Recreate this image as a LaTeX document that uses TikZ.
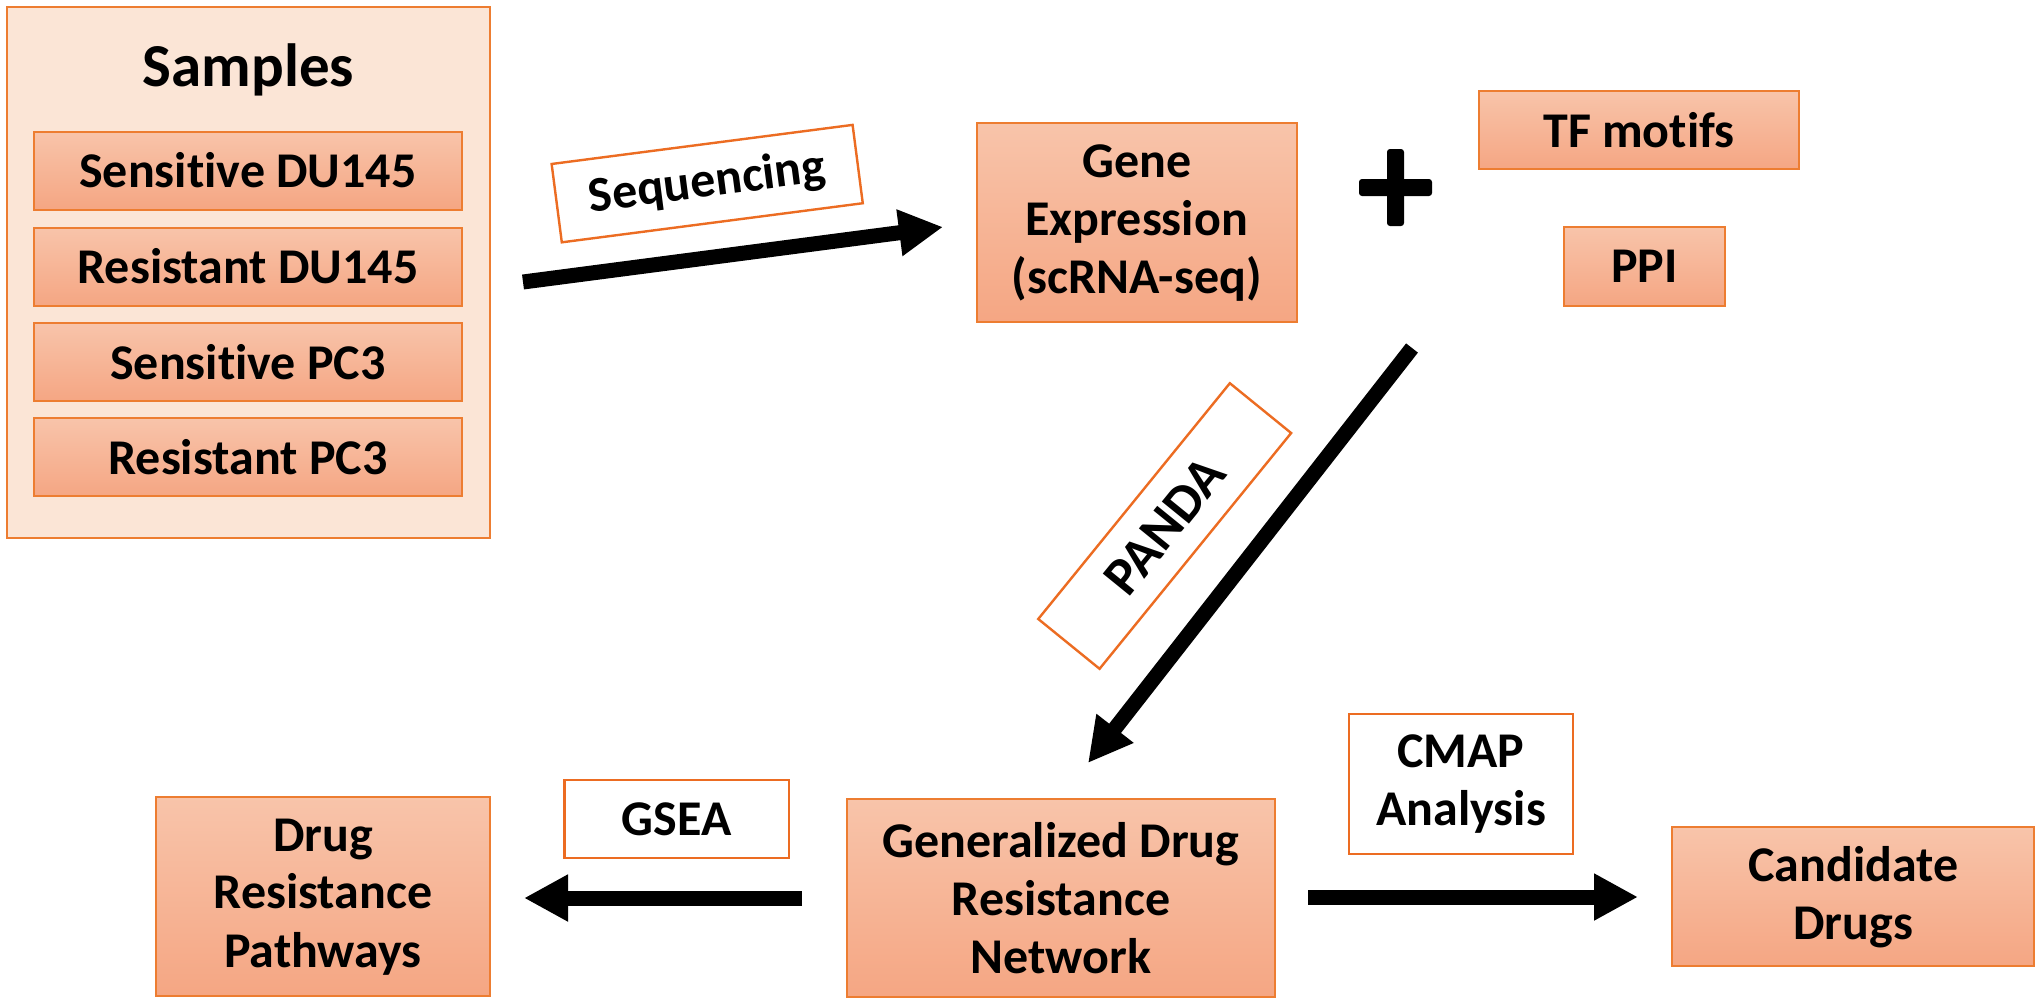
\documentclass[tikz,border=0pt]{standalone}
\usepackage{fontspec}
\setmainfont{Carlito}[Ligatures=NoCommon]
\usetikzlibrary{arrows.meta}
\definecolor{obord}{RGB}{237,125,49}
\definecolor{lbord}{RGB}{236,108,34}
\definecolor{sfill}{RGB}{251,229,214}
\definecolor{gtop}{RGB}{248,196,170}
\definecolor{gbot}{RGB}{245,166,131}
\tikzset{
  txt/.style={font=\fontsize{25}{29}\selectfont\bfseries},
  gbox/.style={txt, draw=obord, line width=1pt, top color=gtop, bottom color=gbot, inner sep=0pt, align=center},
  lbox/.style={txt, draw=lbord, line width=1.2pt, fill=white, inner sep=0pt, align=center},
  bigarrow/.style={line width=7.5pt, line cap=butt, -{Triangle[length=22pt,width=22pt]}},
}
\begin{document}
\begin{tikzpicture}[x=0.5pt,y=-0.5pt]
\useasboundingbox[fill=white] (0,0) rectangle (2040,1003);

% Samples group
\node[draw=obord, line width=1.2pt, fill=sfill, minimum width=241.5pt, minimum height=265.5pt, inner sep=0pt] (samples) at (248.5,272.5) {};
\node[font=\fontsize{30.5}{36}\selectfont\bfseries] (samplestitle) at (248.5,70) {Samples};
\node[gbox, minimum width=214pt, minimum height=39pt] (s1) at (248,170.5) {Sensitive DU145};
\node[gbox, minimum width=214pt, minimum height=39pt] (s2) at (248,266.5) {Resistant DU145};
\node[gbox, minimum width=214pt, minimum height=39pt] (s3) at (248,362) {Sensitive PC3};
\node[gbox, minimum width=214pt, minimum height=39pt] (s4) at (248,457) {Resistant PC3};

% top row
\node[gbox, minimum width=160pt, minimum height=99.5pt] (gene) at (1136.7,222.8) {Gene\\Expression\\(scRNA-seq)};
\node[gbox, minimum width=160pt, minimum height=39.3pt] (tf) at (1639,130) {TF motifs};
\node[gbox, minimum width=80.2pt, minimum height=39.6pt] (ppi) at (1644.5,266.3) {PPI};

% plus sign
\fill[rounded corners=1.5pt] (1359,179) rectangle (1432,196);
\fill[rounded corners=1.5pt] (1387,149) rectangle (1404,226);

% bottom row
\node[gbox, minimum width=214pt, minimum height=99pt] (grn) at (1061,898) {Generalized Drug\\Resistance\\Network};
\node[gbox, minimum width=167pt, minimum height=99.5pt] (drp) at (323,896.7) {Drug\\Resistance\\Pathways};
\node[gbox, minimum width=180.8pt, minimum height=69.3pt] (cand) at (1853.2,896.7) {Candidate\\Drugs};

% label boxes
\node[lbox, rotate=7.4, minimum width=151.75pt, minimum height=39.5pt] (seq) at (707.2,183.6) {Sequencing};
\node[lbox, font=\fontsize{27}{30}\selectfont\bfseries, rotate=50.9, minimum width=151.9pt, minimum height=39.5pt] (panda) at (1164.7,526) {PANDA};
\node[lbox, minimum width=112.2pt, minimum height=39.2pt] (gsea) at (676.5,819) {GSEA};
\node[lbox, minimum width=112pt, minimum height=70pt] (cmap) at (1461,784) {CMAP\\Analysis};

% arrow end points
\coordinate (seqA) at (523,282);
\coordinate (seqB) at (943,227);
\coordinate (pandaA) at (1412,348);
\coordinate (pandaB) at (1088,763);
\coordinate (gseaA) at (802,898);
\coordinate (gseaB) at (524,898);
\coordinate (cmapA) at (1308,897);
\coordinate (cmapB) at (1638,897);

\draw[bigarrow] (seqA) -- (seqB);
\draw[bigarrow] (pandaA) -- (pandaB);
\draw[bigarrow] (gseaA) -- (gseaB);
\draw[bigarrow] (cmapA) -- (cmapB);
\end{tikzpicture}
\end{document}
